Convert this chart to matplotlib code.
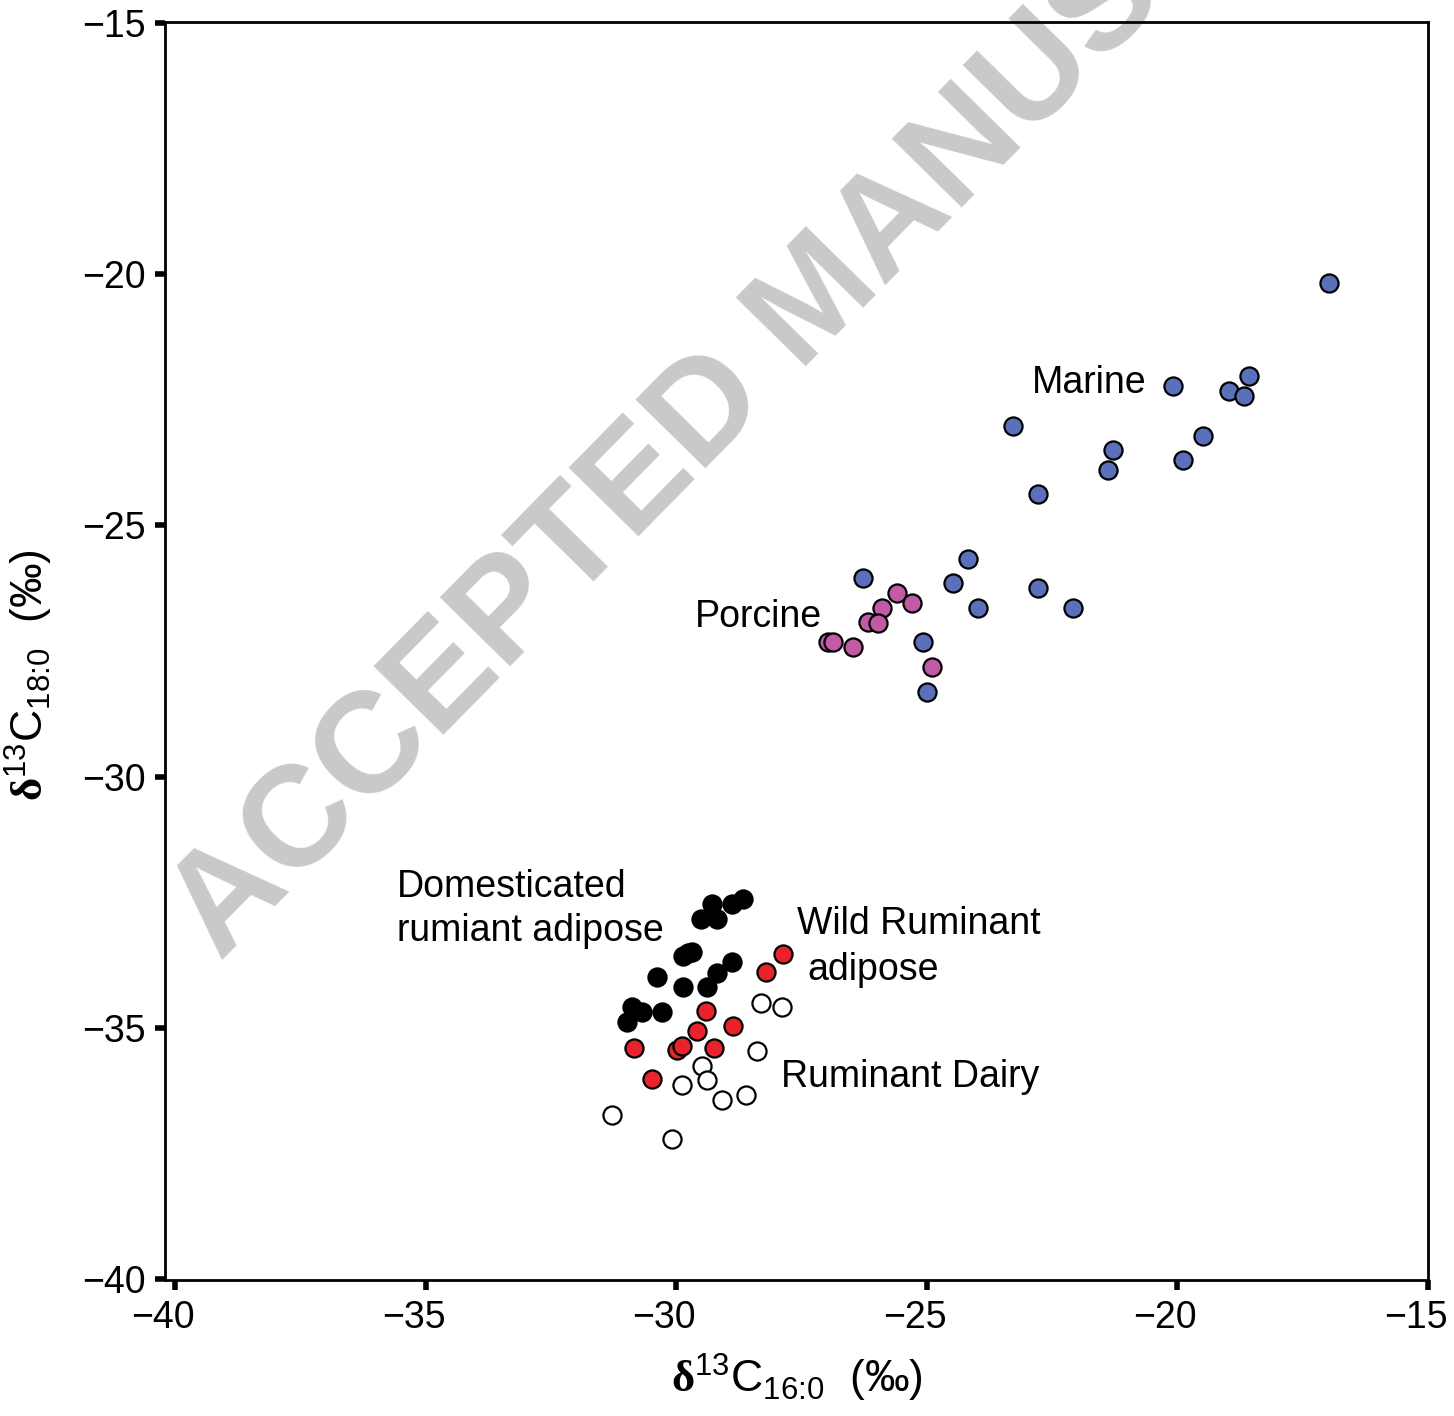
import matplotlib.pyplot as plt
import matplotlib.transforms as mtransforms

plt.rcParams['font.family'] = ['Liberation Sans', 'DejaVu Sans']
plt.rcParams['mathtext.fontset'] = 'custom'
plt.rcParams['mathtext.rm'] = 'Liberation Sans'
plt.rcParams['mathtext.it'] = 'Liberation Sans:italic'
plt.rcParams['mathtext.bf'] = 'Liberation Serif:bold'

# d13C16:0 / d13C18:0 values per group
marine_x = [-16.98, -20.09, -18.98, -18.68, -18.58, -23.28, -19.48, -21.29, -21.39, -19.88,
            -22.78, -24.18, -24.48, -23.98, -22.78, -22.08, -26.28, -25.08, -24.99]
marine_y = [-20.16, -22.23, -22.32, -22.42, -22.02, -23.01, -23.21, -23.49, -23.89, -23.69,
            -24.38, -25.67, -26.15, -26.64, -26.25, -26.64, -26.05, -27.33, -28.31]

porcine_x = [-25.59, -25.29, -25.89, -26.17, -25.97, -26.97, -26.87, -26.48, -24.89]
porcine_y = [-26.35, -26.54, -26.64, -26.92, -26.94, -27.33, -27.33, -27.43, -27.81]

dom_x = [-28.67, -28.88, -29.28, -29.50, -29.18, -29.69, -29.86, -29.77, -28.88, -29.18,
         -30.38, -29.87, -29.38, -30.89, -30.69, -30.29, -30.99]
dom_y = [-32.43, -32.53, -32.53, -32.83, -32.84, -33.49, -33.58, -33.52, -33.69, -33.91,
         -33.99, -34.19, -34.19, -34.59, -34.69, -34.69, -34.89]

wild_x = [-27.87, -28.21, -29.40, -28.87, -29.58, -30.84, -29.98, -29.89, -29.24, -30.49]
wild_y = [-33.54, -33.89, -34.68, -34.96, -35.06, -35.41, -35.45, -35.37, -35.40, -36.02]

dairy_x = [-28.30, -27.89, -28.39, -29.48, -29.38, -29.88, -28.60, -29.08, -31.28, -30.09]
dairy_y = [-34.51, -34.59, -35.47, -35.77, -36.05, -36.15, -36.35, -36.44, -36.75, -37.23]

ticks = [-40, -35, -30, -25, -20, -15]

fig = plt.figure(figsize=(14.54, 14.16), dpi=100)
ax = fig.add_axes([0.1135, 0.096, 0.8686, 0.8885])

dot = dict(s=170, edgecolors='black', linewidths=1.6, zorder=5, clip_on=False)
ax.scatter(marine_x, marine_y, color='#5b70bb', **dot)
ax.scatter(porcine_x, porcine_y, color='#c25aa6', **dot)
ax.scatter(dairy_x, dairy_y, color='white', **dot)
ax.scatter(wild_x, wild_y, color='#e8232b', **dot)
ax.scatter(dom_x, dom_y, color='black', **dot)

ax.set_xlim(-40.2, -15)
ax.set_ylim(-40.03, -14.97)
ax.set_xticks(ticks)
ax.set_yticks(ticks)
ax.set_xticklabels([f'\u2212{abs(t)}' for t in ticks])
ax.set_yticklabels([f'\u2212{abs(t)}' for t in ticks])
ax.tick_params(direction='out', length=7, width=4, labelsize=27, pad=7)
for sp in ax.spines.values():
    sp.set_linewidth(2)

# x tick labels sit a little left of their ticks in the original
shift = mtransforms.ScaledTranslation(-12 / 100, 0, fig.dpi_scale_trans)
for lbl in ax.get_xticklabels():
    lbl.set_transform(lbl.get_transform() + shift)

ax.set_xlabel(r'$\mathbf{\delta}^{13}$C$_{\text{16:0}}$  (‰)', fontsize=32, labelpad=12)
ax.set_ylabel(r'$\mathbf{\delta}^{13}$C$_{\text{18:0}}$  (‰)', fontsize=32)
ax.yaxis.set_label_coords(-0.087, 0.481)

# group labels
lab = dict(fontsize=27, ha='left', va='baseline', zorder=6)
ax.text(-22.91, -22.36, 'Marine', **lab)
ax.text(-29.63, -27.02, 'Porcine', **lab)
ax.text(-35.57, -32.40, 'Domesticated', **lab)
ax.text(-35.57, -33.28, 'rumiant adipose', **lab)
ax.text(-27.59, -33.14, 'Wild Ruminant', **lab)
ax.text(-27.38, -34.06, 'adipose', **lab)
ax.text(-27.91, -36.19, 'Ruminant Dairy', **lab)

# watermark
ax.text(220 / 1454, 1 - 962 / 1416, 'ACCEPTED MANUSCRIPT', transform=fig.transFigure,
        fontsize=103, fontweight='bold', color='#c8c9cb', rotation=45.5,
        rotation_mode='anchor', ha='left', va='baseline', zorder=1, clip_on=False)

plt.savefig('out.png', dpi=100)
